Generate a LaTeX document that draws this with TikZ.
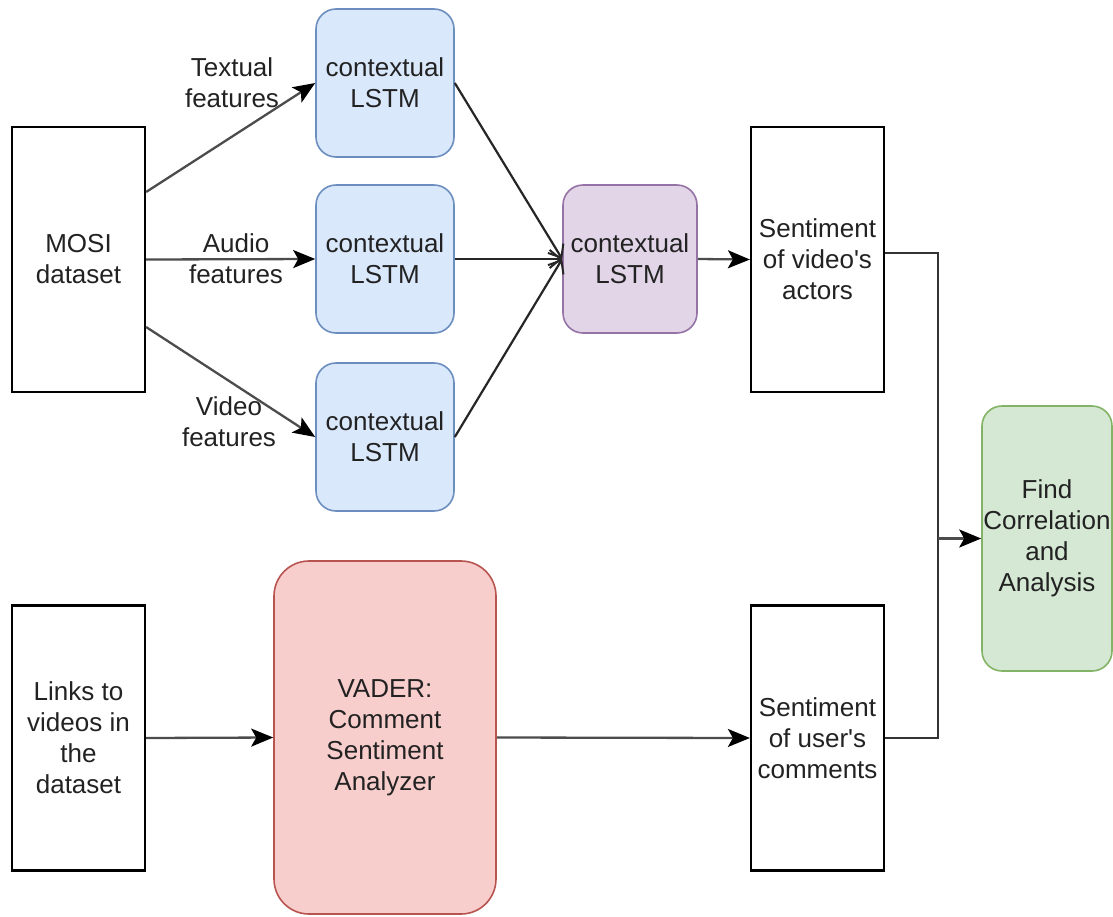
\documentclass[tikz,border=0pt]{standalone}
\usepackage{fontspec}
\setmainfont{Liberation Sans}
\usetikzlibrary{arrows.meta}
\definecolor{bluefill}{HTML}{DAE8FC}
\definecolor{bluedraw}{HTML}{6C8EBF}
\definecolor{purplefill}{HTML}{E1D5E7}
\definecolor{purpledraw}{HTML}{9673A6}
\definecolor{greenfill}{HTML}{D5E8D4}
\definecolor{greendraw}{HTML}{82B366}
\definecolor{redfill}{HTML}{F8CECC}
\definecolor{reddraw}{HTML}{B85450}
\definecolor{txt}{HTML}{222222}
\tikzset{
  base/.style={align=center, inner sep=0pt, text=txt, font=\fontsize{26}{31}\selectfont},
  plainbox/.style={base, draw=black, line width=2.2pt, fill=white},
  lstmbox/.style={base, draw=bluedraw, fill=bluefill, line width=1.6pt, rounded corners=20pt, minimum width=138pt, minimum height=148pt},
  purplebox/.style={base, draw=purpledraw, fill=purplefill, line width=1.6pt, rounded corners=20pt, minimum width=134pt, minimum height=148pt},
  greenbox/.style={base, draw=greendraw, fill=greenfill, line width=1.6pt, rounded corners=20pt, minimum width=130pt, minimum height=265pt},
  redbox/.style={base, draw=reddraw, fill=redfill, line width=1.6pt, rounded corners=35pt, minimum width=222pt, minimum height=353pt},
  tallbox/.style={plainbox, minimum width=133pt, minimum height=265pt},
  lbl/.style={base},
  flow/.style={draw=black!70, line width=2.3pt, -{Stealth[length=22pt, width=18pt, inset=5pt, color=black]}},
  conv/.style={draw=black!85, line width=2.2pt, -{Straight Barb[length=11pt, width=18pt, line width=2pt, color=black!85]}},
  link/.style={draw=black!80, line width=2.3pt}
}
\begin{document}
\begin{tikzpicture}[x=1pt, y=-1pt]
\useasboundingbox (0,0) rectangle (1113,916);
% nodes
\node[tallbox] (mosi) at (78.5,259.5) {MOSI\\dataset};
\node[lstmbox] (l1) at (385,83) {contextual\\LSTM};
\node[lstmbox] (l2) at (385,259) {contextual\\LSTM};
\node[lstmbox] (l3) at (385,437) {contextual\\LSTM};
\node[purplebox] (l4) at (630,259) {contextual\\LSTM};
\node[tallbox] (sa) at (817.5,259.5) {Sentiment\\of video\textquotesingle s\\actors};
\node[greenbox] (fc) at (1047,538.5) {Find\\Correlation\\and\\Analysis};
\node[tallbox] (links) at (78.5,738) {Links to\\videos in\\the\\dataset};
\node[redbox] (vader) at (385,737.5) {VADER:\\Comment\\Sentiment\\Analyzer};
\node[tallbox] (su) at (817.5,738) {Sentiment\\of user\textquotesingle s\\comments};
% labels
\node[lbl] (tl) at (232,83) {Textual\\features};
\node[lbl] (al) at (236,259) {Audio\\features};
\node[lbl] (vl) at (229,422) {Video\\features};
% junction
\coordinate (j1) at (938,253);
\coordinate (j2) at (938,738);
\coordinate (jm) at (938,538.5);
% connectors
\draw[flow] (mosi.east |- 0,192) -- (l1.west);
\draw[flow] (mosi.east) -- (l2.west);
\draw[flow] (mosi.east |- 0,327) -- (l3.west);
\draw[conv] (l1.east) -- (l4.west);
\draw[conv] (l2.east) -- (l4.west);
\draw[conv] (l3.east) -- (l4.west);
\draw[flow] (l4.east) -- (sa.west);
\draw[link] (sa.east |- j1) -- (j1) -- (j2) -- (su.east);
\draw[flow] (jm) -- (fc.west);
\draw[flow] (links.east) -- (vader.west);
\draw[flow] (vader.east) -- (su.west);
\end{tikzpicture}
\end{document}
